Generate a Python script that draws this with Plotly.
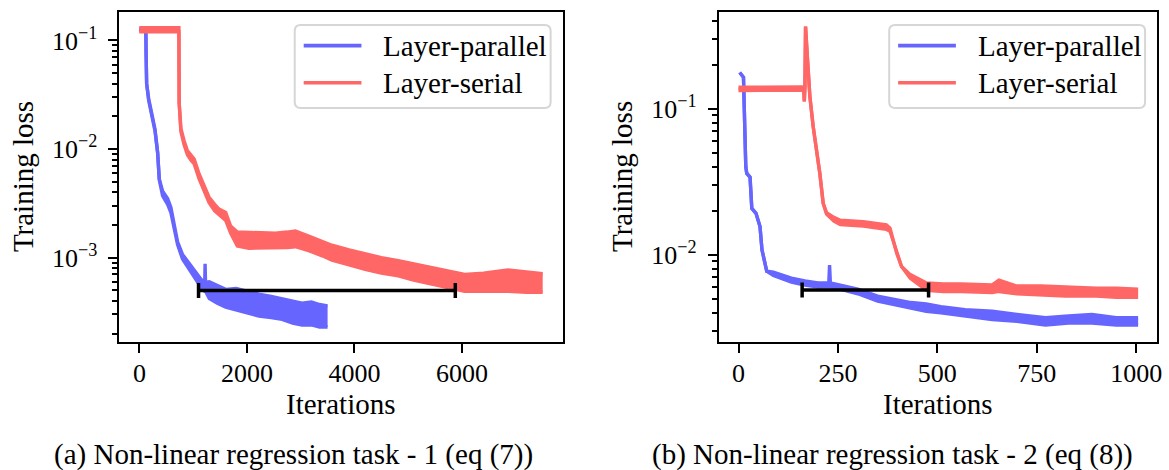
import plotly.graph_objects as go

W, H = 1169, 470

# ---------------- data ----------------
series_names = ["Layer-parallel", "Layer-serial"]
captions = ["(a) Non-linear regression task - 1 (eq (7))",
            "(b) Non-linear regression task - 2 (eq (8))"]

# Panel (a): layer-parallel (band: lower / upper edge of the noisy curve)
lp1_x = [0, 120, 125, 135, 173, 247, 290, 340, 370, 432, 525, 586, 648, 710, 802, 926,
         1049, 1150, 1215, 1222, 1230, 1300, 1450, 1605, 1800, 2000, 2222, 2450, 2654,
         2850, 3025, 3200, 3350, 3500]
lp1_lo = [0.122, 0.122, 0.075, 0.040, 0.0280, 0.0182, 0.0147, 0.0092, 0.0052, 0.0037, 0.0031,
          0.0026, 0.00188, 0.00132, 0.00097, 0.00078, 0.00062, 0.00053, 0.00049, 0.00049,
          0.00049, 0.00042, 0.00038, 0.00035, 0.00033, 0.00031, 0.00029, 0.00028, 0.00027,
          0.00025, 0.00024, 0.00024, 0.00023, 0.00023]
lp1_hi = [0.129, 0.129, 0.075, 0.040, 0.0290, 0.0190, 0.0153, 0.0092, 0.0053, 0.0041, 0.0035,
          0.0029, 0.00198, 0.00140, 0.00107, 0.00088, 0.00072, 0.00063, 0.00059, 0.00088,
          0.00059, 0.00060, 0.00055, 0.00051, 0.00052, 0.00049, 0.00046, 0.00044, 0.00042,
          0.00040, 0.00038, 0.00039, 0.00037, 0.00036]

# Panel (a): layer-serial
ls1_x = [0, 700, 735, 740, 772, 830, 895, 960, 1019, 1111, 1200, 1296, 1400, 1481, 1605,
         1697, 1821, 2037, 2300, 2530, 2750, 2900, 3148, 3400, 3580, 3900, 4198, 4500,
         4815, 5100, 5432, 5750, 6049, 6400, 6852, 7200, 7500]
ls1_lo = [0.120, 0.120, 0.120, 0.0265, 0.0145, 0.0110, 0.0088, 0.0079, 0.0073, 0.0053,
          0.0042, 0.0032, 0.0027, 0.0025, 0.0022, 0.00168, 0.00128, 0.00122, 0.00122,
          0.00122, 0.00124, 0.00126, 0.00116, 0.00104, 0.00095, 0.00086, 0.00078, 0.00072,
          0.00068, 0.00062, 0.00057, 0.00053, 0.00049, 0.00049, 0.00049, 0.00048, 0.00048]
ls1_hi = [0.131, 0.131, 0.131, 0.0265, 0.0155, 0.0120, 0.0096, 0.0088, 0.0081, 0.0059,
          0.0047, 0.0036, 0.0031, 0.0028, 0.0026, 0.00195, 0.00172, 0.00170, 0.00168,
          0.00168, 0.00172, 0.00176, 0.00158, 0.00142, 0.00130, 0.00118, 0.00108, 0.00100,
          0.00094, 0.00088, 0.00082, 0.00076, 0.00070, 0.00072, 0.00077, 0.00074, 0.00071]

# Panel (b): layer-parallel
lp2_x = [3, 12.5, 18.3, 20.8, 29, 33.4, 44, 54, 59, 67, 71, 87.7, 133, 167, 200, 227, 229,
         231, 267, 300, 350, 400, 434, 472, 509, 570, 638, 700, 772, 830, 889, 950, 1005]
lp2_lo = [0.177, 0.164, 0.040, 0.036, 0.034, 0.0208, 0.0192, 0.0156, 0.0108, 0.0085, 0.0077,
          0.0072, 0.0065, 0.0062, 0.0060, 0.0060, 0.0060, 0.0060, 0.0057, 0.0054, 0.0048,
          0.0045, 0.0043, 0.0041, 0.0040, 0.0038, 0.0036, 0.0035, 0.0033, 0.0034, 0.0034,
          0.0033, 0.0033]
lp2_hi = [0.177, 0.164, 0.040, 0.036, 0.034, 0.0208, 0.0192, 0.0156, 0.0108, 0.0085, 0.0077,
          0.0076, 0.0069, 0.0066, 0.0064, 0.0064, 0.0085, 0.0064, 0.0061, 0.0058, 0.0052,
          0.0049, 0.0047, 0.0046, 0.0044, 0.0042, 0.0041, 0.0039, 0.0037, 0.0038, 0.0039,
          0.0037, 0.0037]

# Panel (b): layer-serial
ls2_x = [0, 80, 160, 164, 165.5, 167, 168.6, 173.6, 179.5, 187.8, 196.2, 204.5, 212.9,
         221.3, 240, 256, 314, 372, 381, 398, 410, 432, 473, 515, 560, 638, 655, 700, 760,
         822, 900, 950, 1005]
ls2_lo = [0.133, 0.133, 0.134, 0.132, 0.112, 0.14, 0.365, 0.216, 0.121, 0.0753, 0.0522,
          0.036, 0.0225, 0.0190, 0.0170, 0.0161, 0.0157, 0.0149, 0.0145, 0.0102, 0.0083,
          0.0069, 0.0057, 0.0056, 0.0056, 0.0055, 0.0056, 0.0054, 0.0053, 0.0052, 0.0052,
          0.0051, 0.0051]
ls2_hi = [0.140, 0.140, 0.141, 0.138, 0.112, 0.14, 0.365, 0.216, 0.121, 0.0753, 0.0522,
          0.036, 0.0225, 0.0194, 0.0180, 0.0172, 0.0168, 0.0160, 0.0152, 0.0102, 0.0083,
          0.0073, 0.0064, 0.0063, 0.0063, 0.0062, 0.0067, 0.0061, 0.0061, 0.0060, 0.0059,
          0.0059, 0.0058]

# horizontal "speed-up" bars: start, end, level
bar1_start, bar1_end, bar1_y = 1100, 5875, 0.000497
bar2_start, bar2_end, bar2_y = 160, 478, 0.00573

x_ticks_a = [0, 2000, 4000, 6000]
x_ticks_b = [0, 250, 500, 750, 1000]
y_ticks_a = [0.001, 0.01, 0.1]
y_text_a = ["10<sup>\u22123</sup>", "10<sup>\u22122</sup>", "10<sup>\u22121</sup>"]
y_ticks_b = [0.01, 0.1]
y_text_b = ["10<sup>\u22122</sup>", "10<sup>\u22121</sup>"]

BLUE = "#6666ff"
RED = "#ff6666"
FONT = "Liberation Serif"

# ---------------- figure ----------------
fig = go.Figure()


def add_band(x, lo, hi, color, xa, ya, name):
    fig.add_trace(go.Scatter(x=x, y=lo, mode="lines", line=dict(color=color, width=3.4),
                             xaxis=xa, yaxis=ya, showlegend=False, hoverinfo="skip"))
    fig.add_trace(go.Scatter(x=x, y=hi, mode="lines", line=dict(color=color, width=3.4),
                             fill="tonexty", fillcolor=color, xaxis=xa, yaxis=ya,
                             showlegend=False, name=name))


def add_bar(s, e, yv, xa, ya):
    fig.add_trace(go.Scatter(x=[(s + e) / 2], y=[yv], mode="markers",
                             marker=dict(size=1, color="rgba(0,0,0,0)"),
                             error_x=dict(type="data", symmetric=True, array=[(e - s) / 2],
                                          color="black", thickness=3.5, width=7.5),
                             xaxis=xa, yaxis=ya, showlegend=False, hoverinfo="skip"))


add_band(lp1_x, lp1_lo, lp1_hi, BLUE, "x", "y", series_names[0])
add_band(ls1_x, ls1_lo, ls1_hi, RED, "x", "y", series_names[1])
add_bar(bar1_start, bar1_end, bar1_y, "x", "y")

add_band(lp2_x, lp2_lo, lp2_hi, BLUE, "x2", "y2", series_names[0])
add_band(ls2_x, ls2_lo, ls2_hi, RED, "x2", "y2", series_names[1])
add_bar(bar2_start, bar2_end, bar2_y, "x2", "y2")


def px(v):
    return v / W


def py(v):
    return 1 - v / H


axis_common = dict(showline=True, mirror=True, linecolor="black", linewidth=2,
                   ticks="outside", ticklen=9, tickwidth=2, tickcolor="black",
                   showgrid=False, zeroline=False,
                   tickfont=dict(family=FONT, size=26, color="black"))

minor_a = [k * 10.0 ** e for e in (-4, -3, -2) for k in range(2, 10)]
minor_b = [k * 10.0 ** e for e in (-3, -2, -1) for k in range(2, 10)]
minor_style = dict(ticks="outside", ticklen=5, tickwidth=1.5, tickcolor="black", showgrid=False)

fig.update_layout(
    width=W, height=H,
    margin=dict(l=0, r=0, t=0, b=0),
    paper_bgcolor="white", plot_bgcolor="white",
    showlegend=False,
    xaxis=dict(domain=[px(120), px(565)], range=[-370, 7870], anchor="y",
               tickmode="array", tickvals=x_ticks_a, ticktext=[str(v) for v in x_ticks_a],
               ticklabelstandoff=-2, **axis_common),
    yaxis=dict(domain=[py(341.7), py(11.7)], type="log", range=[-3.774, -0.7355], anchor="x",
               tickmode="array", tickvals=y_ticks_a, ticktext=y_text_a,
               minor=dict(tickvals=minor_a, **minor_style), ticklabelstandoff=6, **axis_common),
    xaxis2=dict(domain=[px(722), px(1162.3)], range=[-49.3, 1053.3], anchor="y2",
                tickmode="array", tickvals=x_ticks_b, ticktext=[str(v) for v in x_ticks_b],
                ticklabelstandoff=-2, **axis_common),
    yaxis2=dict(domain=[py(341.7), py(11.7)], type="log", range=[-2.596, -0.336], anchor="x2",
                tickmode="array", tickvals=y_ticks_b, ticktext=y_text_b,
                minor=dict(tickvals=minor_b, **minor_style), ticklabelstandoff=6, **axis_common),
)

annotations = []
shapes = []
tfont = dict(family=FONT, size=29, color="black")

# axis titles and captions
for cx in (342.5, 942):
    annotations.append(dict(text="Iterations", x=px(cx), y=py(403.5), xref="paper", yref="paper",
                            xanchor="center", yanchor="middle", showarrow=False, font=tfont))
for cx in (22.5, 624):
    annotations.append(dict(text="Training loss", x=px(cx), y=py(176.7), xref="paper",
                            yref="paper", xanchor="center", yanchor="middle", textangle=-90,
                            showarrow=False, font=tfont))
for cx, cap in zip((294.5, 896.5), captions):
    annotations.append(dict(text=cap, x=px(cx), y=py(454.5), xref="paper", yref="paper",
                            xanchor="center", yanchor="middle", showarrow=False, font=tfont))

# legends (rounded frame, line samples, labels)
for bx in (296, 893):
    x0, x1, y0, y1 = bx, bx + 257, 25, 108
    r = 6
    path = (f"M{px(x0 + r)},{py(y0)} L{px(x1 - r)},{py(y0)} Q{px(x1)},{py(y0)} {px(x1)},{py(y0 + r)} "
            f"L{px(x1)},{py(y1 - r)} Q{px(x1)},{py(y1)} {px(x1 - r)},{py(y1)} "
            f"L{px(x0 + r)},{py(y1)} Q{px(x0)},{py(y1)} {px(x0)},{py(y1 - r)} "
            f"L{px(x0)},{py(y0 + r)} Q{px(x0)},{py(y0)} {px(x0 + r)},{py(y0)} Z")
    shapes.append(dict(type="path", path=path, xref="paper", yref="paper",
                       line=dict(color="#d6d6d6", width=2), fillcolor="rgba(255,255,255,0.8)",
                       layer="above"))
    for name, color, ly in ((series_names[0], BLUE, 45.6), (series_names[1], RED, 82.8)):
        shapes.append(dict(type="line", xref="paper", yref="paper", x0=px(bx + 9), x1=px(bx + 67),
                           y0=py(ly), y1=py(ly), line=dict(color=color, width=3.6), layer="above"))
        annotations.append(dict(text=name, x=px(bx + 87), y=py(ly), xref="paper", yref="paper",
                                xanchor="left", yanchor="middle", showarrow=False, font=tfont))

fig.update_layout(annotations=annotations, shapes=shapes)

fig.write_html("out.html", config={"displayModeBar": False},
               post_script="document.body.style.margin='0px';")
